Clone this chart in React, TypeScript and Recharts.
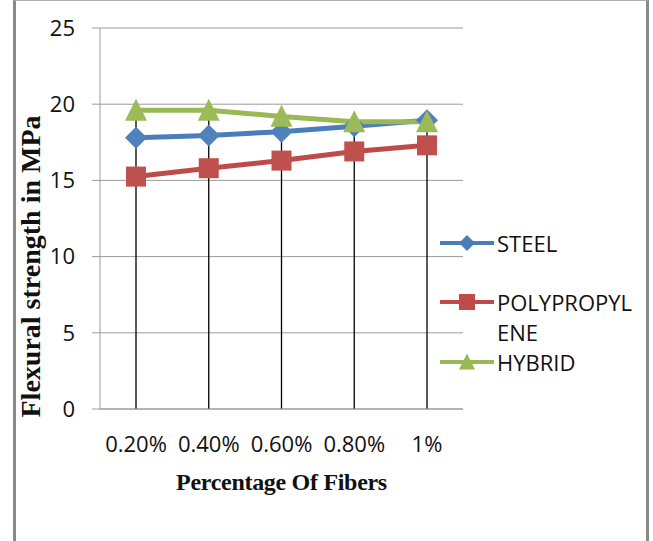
import { LineChart, Line, XAxis, YAxis, CartesianGrid, Legend, ReferenceLine } from 'recharts';

const categories = ['0.20%', '0.40%', '0.60%', '0.80%', '1%'];
const steel = [17.8, 17.95, 18.2, 18.55, 18.95];
const polypropylene = [15.25, 15.8, 16.3, 16.9, 17.3];
const hybrid = [19.6, 19.6, 19.2, 18.85, 18.85];
const yTicks = [0, 5, 10, 15, 20, 25];
const seriesOrder = ['STEEL', 'POLYPROPYLENE', 'HYBRID'];

const data = categories.map((name, i) => ({
    name,
    STEEL: steel[i],
    POLYPROPYLENE: polypropylene[i],
    HYBRID: hybrid[i],
}));

// drop lines go from the highest point down to the axis
const tops = categories.map((_, i) => Math.max(steel[i], polypropylene[i], hybrid[i]));

const BLUE = '#4A7EBB';
const RED = '#BE4B48';
const GREEN = '#98B954';
const GRID = '#9a9a9a';
const tickFont = { fontFamily: 'Open Sans', fontSize: 22, fill: '#111' };

function marker(shape: string, cx: number, cy: number, r: number, fill: string, key?: any) {
    if (shape === 'square') {
        return <rect key={key} x={cx - r} y={cy - r} width={r * 2} height={r * 2} fill={fill} />;
    }
    if (shape === 'triangle') {
        return <path key={key} d={`M${cx},${cy - r * 1.05}L${cx + r},${cy + r * 0.95}L${cx - r},${cy + r * 0.95}Z`} fill={fill} />;
    }
    return <path key={key} d={`M${cx},${cy - r}L${cx + r},${cy}L${cx},${cy + r}L${cx - r},${cy}Z`} fill={fill} />;
}

const shapes: Record<string, string> = { STEEL: 'diamond', POLYPROPYLENE: 'square', HYBRID: 'triangle' };

const dotFor = (shape: string, fill: string, r: number) => (p: any) =>
    marker(shape, p.cx, p.cy, r, fill, `${shape}-${p.index}`);

function LegendBox({ payload }: any) {
    const items = [...(payload || [])].sort(
        (a: any, b: any) => seriesOrder.indexOf(a.value) - seriesOrder.indexOf(b.value)
    );
    return (
        <div style={{ fontFamily: 'Open Sans', fontSize: 22, lineHeight: '30px', color: '#111' }}>
            {items.map((item: any, i: number) => (
                <div key={item.value} style={{ display: 'flex', alignItems: 'flex-start', marginBottom: i === 0 ? 29 : 0 }}>
                    <svg width={54} height={30} style={{ flex: 'none' }}>
                        <line x1={0} y1={15} x2={54} y2={15} stroke={item.color} strokeWidth={4} strokeLinecap="round" />
                        {marker(shapes[item.value], 27, 15, 8, item.color)}
                    </svg>
                    <div style={{ width: 142, marginLeft: 3, wordBreak: 'break-all' }}>{item.value}</div>
                </div>
            ))}
        </div>
    );
}

export default function App() {
    return (
        <div style={{ position: 'fixed', left: 0, top: 0, width: 653, height: 541, background: '#fff', overflow: 'hidden' }}>
            <div
                style={{
                    position: 'absolute',
                    left: 13,
                    top: 0,
                    width: 630,
                    height: 560,
                    borderLeft: '3px solid #8a8a8a',
                    borderRight: '3px solid #8a8a8a',
                    borderTop: '1px solid #b0b0b0',
                }}
            />
            <LineChart
                width={653}
                height={541}
                data={data}
                margin={{ top: 28, right: 190, left: 0, bottom: 92 }}
                style={{ position: 'absolute', left: 0, top: 0 }}
            >
                <CartesianGrid vertical={false} stroke={GRID} />
                <XAxis
                    dataKey="name"
                    height={40}
                    padding={{ left: 36, right: 36 }}
                    tick={tickFont}
                    tickLine={false}
                    tickSize={0}
                    tickMargin={27}
                    axisLine={{ stroke: GRID }}
                    label={{
                        content: (p: any) => (
                            <text
                                x={p.viewBox.x + p.viewBox.width / 2}
                                y={p.viewBox.y + 81}
                                textAnchor="middle"
                                fontFamily="Liberation Serif"
                                fontWeight="bold"
                                fontSize={24}
                                letterSpacing={-0.3}
                                fill="#111"
                            >
                                Percentage Of Fibers
                            </text>
                        ),
                    }}
                />
                <YAxis
                    width={100}
                    domain={[0, 25]}
                    ticks={yTicks}
                    interval={0}
                    tick={tickFont}
                    tickSize={8}
                    tickMargin={17}
                    tickLine={{ stroke: GRID }}
                    axisLine={{ stroke: GRID }}
                    label={{
                        content: (p: any) => {
                            const cy = p.viewBox.y + p.viewBox.height / 2 + 48;
                            return (
                                <text
                                    x={40}
                                    y={cy}
                                    transform={`rotate(-90, 40, ${cy})`}
                                    textAnchor="middle"
                                    fontFamily="Liberation Serif"
                                    fontWeight="bold"
                                    fontSize={28}
                                    fill="#111"
                                >
                                    Flexural strength in MPa
                                </text>
                            );
                        },
                    }}
                />
                <Legend
                    layout="vertical"
                    align="center"
                    verticalAlign="middle"
                    content={<LegendBox />}
                    wrapperStyle={{ left: 440, top: 228, width: 200, height: 'auto' }}
                />
                <Line
                    dataKey="STEEL"
                    stroke={BLUE}
                    strokeWidth={5}
                    dot={dotFor('diamond', '#4F81BD', 11)}
                    activeDot={false}
                    isAnimationActive={false}
                />
                <Line
                    dataKey="POLYPROPYLENE"
                    stroke={RED}
                    strokeWidth={5}
                    dot={dotFor('square', '#C0504D', 10)}
                    activeDot={false}
                    isAnimationActive={false}
                />
                <Line
                    dataKey="HYBRID"
                    stroke={GREEN}
                    strokeWidth={5}
                    dot={dotFor('triangle', '#9BBB59', 11)}
                    activeDot={false}
                    isAnimationActive={false}
                />
                {categories.map((c, i) => (
                    <ReferenceLine
                        key={c}
                        segment={[
                            { x: c, y: 0 },
                            { x: c, y: tops[i] },
                        ]}
                        stroke="#000"
                        strokeWidth={1.3}
                        ifOverflow="visible"
                    />
                ))}
            </LineChart>
        </div>
    );
}
